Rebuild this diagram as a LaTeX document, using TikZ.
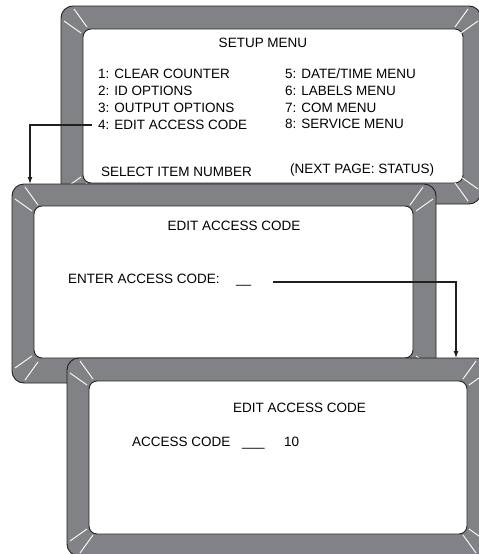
\documentclass[tikz,border=0pt]{standalone}
\usepackage{fontspec}
\setmainfont{Liberation Sans}
\usetikzlibrary{arrows.meta}
\definecolor{bezel}{RGB}{128,130,133}
\definecolor{edge}{RGB}{35,31,32}
\tikzset{
  bez/.style={rectangle,fill=bezel,draw=edge,line width=0.9pt,rounded corners=12pt,inner sep=0pt,outer sep=0pt},
  scr/.style={rectangle,fill=white,draw=edge,line width=0.9pt,rounded corners=8pt,inner sep=0pt,outer sep=0pt},
  glint/.style={draw=white,line width=0.9pt},
  lbl/.style={inner sep=0pt,anchor=base west,font=\fontsize{13.5}{16}\selectfont},
  ttl/.style={inner sep=0pt,anchor=base,font=\fontsize{13.5}{16}\selectfont},
  conn/.style={draw=edge,line width=1.2pt,-{Latex[length=7pt,width=5pt]}}
}
\newcommand\glints[4]{%
  \foreach \cx/\cy/\sx/\sy in {#1/#2/1/1,#3/#2/-1/1,#1/#4/1/-1,#3/#4/-1/-1}{%
    \begin{scope}[shift={(\cx,\cy)},xscale=\sx,yscale=\sy]
      \draw[glint] (13,3) -- (26,21) (3,15) -- (20,27);
    \end{scope}}}
\begin{document}
\begin{tikzpicture}[x=1pt,y=-1pt]
\useasboundingbox (0,0) rectangle (479,554);
\clip (0,0) rectangle (479,554);
% ---- screen 1
\node[bez,minimum width=420pt,minimum height=198pt] (f1) at (271,105) {};
\node[scr,minimum width=380pt,minimum height=154pt] (s1) at (273,106) {};
\glints{61}{6}{481}{204}
\node[ttl] (t1) at (263,47) {SETUP MENU};
\node[lbl] (item1) at (98,78.5) {1: CLEAR COUNTER};
\node[lbl] (item2) at (98,95.3) {2: ID OPTIONS};
\node[lbl] (item3) at (98,112.3) {3: OUTPUT OPTIONS};
\node[lbl] (item4) at (98,129.5) {4: EDIT ACCESS CODE};
\node[lbl] (item5) at (285,78.5) {5: DATE/TIME MENU};
\node[lbl] (item6) at (285,95.3) {6: LABELS MENU};
\node[lbl] (item7) at (285,112) {7: COM MENU};
\node[lbl] (item8) at (285,128.3) {8: SERVICE MENU};
\node[lbl] (sel) at (101,176) {SELECT ITEM NUMBER};
\node[lbl] (next) at (290,173) {(NEXT PAGE: STATUS)};
% ---- screen 2
\node[bez,minimum width=424pt,minimum height=199pt] (f2) at (224,283.5) {};
\node[scr,minimum width=379pt,minimum height=152pt] (s2) at (223.5,282) {};
\glints{12}{184}{436}{383}
\node[ttl] (t2) at (234,230) {EDIT ACCESS CODE};
\node[lbl] (enter) at (68,283) {ENTER ACCESS CODE:};
\node[lbl] (blank2) at (236,283) {\_\_};
% arrow 1
\coordinate (a1s) at (92,125);
\coordinate (a1e) at (30,184);
\draw[conn] (a1s) -| (a1e);
% ---- screen 3
\node[bez,minimum width=422pt,minimum height=198pt] (f3) at (278,457) {};
\node[scr,minimum width=378pt,minimum height=153pt] (s3) at (278,457.5) {};
\glints{67}{358}{489}{556}
\node[ttl] (t3) at (299.5,412.5) {EDIT ACCESS CODE};
\node[lbl] (acc) at (132,446) {ACCESS CODE};
\node[lbl] (blank3) at (242,446) {\_\_\_};
\node[lbl] (val) at (284,446) {10};
% arrow 2
\coordinate (a2s) at (273,282);
\coordinate (a2e) at (456,358);
\draw[conn] (a2s) -| (a2e);
\end{tikzpicture}
\end{document}
